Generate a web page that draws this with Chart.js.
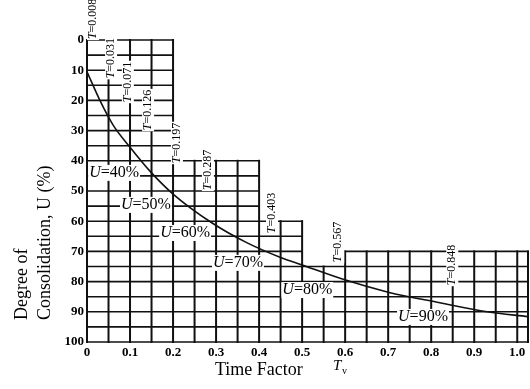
<!DOCTYPE html>
<html>
<head>
<meta charset="utf-8">
<script src="https://cdn.jsdelivr.net/npm/chart.js@4.4.1/dist/chart.umd.min.js"></script>
<style>
  html, body { margin: 0; padding: 0; background: #fff; }
  #wrap { width: 530px; height: 389px; }
</style>
</head>
<body>
<div id="wrap"><canvas id="chart"></canvas></div>
<script>
// curve: time factor T vs degree of consolidation U (%)
const timeFactor = [0, 0.03, 0.06, 0.10, 0.15, 0.20, 0.29, 0.37, 0.45, 0.50, 0.59, 0.70, 0.82, 0.93, 1.025];
const consolidation = [10.5, 20, 28, 35.5, 44, 51, 60.5, 67, 72, 74.5, 79, 83.5, 87, 90, 91.6];

const xTicks = [0, 0.1, 0.2, 0.3, 0.4, 0.5, 0.6, 0.7, 0.8, 0.9, 1.0];
const xTickLabels = ['0', '0.1', '0.2', '0.3', '0.4', '0.5', '0.6', '0.7', '0.8', '0.9', '1.0'];
const yTicks = [0, 10, 20, 30, 40, 50, 60, 70, 80, 90, 100];
const yTickLabels = ['0', '10', '20', '30', '40', '50', '60', '70', '80', '90', '100'];

// stepped grid: column edges in T and the U where each column's grid starts
const gridEdges = [0, 0.2, 0.4, 0.5, 0.6, 1.025];
const gridTops = [0, 40, 60, 75, 70];
const gridStepT = 0.05;
const gridStepU = 5;

// time factors for U = 10 ... 90 %
const tValues = ['0.008', '0.031', '0.071', '0.126', '0.197', '0.287', '0.403', '0.567', '0.848'];
const uLevels = ['40', '50', '60', '70', '80', '90'];

const SERIF = '"Liberation Serif", "DejaVu Serif", serif';

// where the annotations sit, in chart units (T, U)
const tLabelAt = [[0.014, -7], [0.056, 6], [0.095, 13.9], [0.142, 23.2], [0.209, 34.1],
                  [0.281, 43], [0.43, 57.3], [0.584, 66.9], [0.849, 74.5]];
const uLabelAt = [[0.063, 44], [0.137, 54.6], [0.228, 63.9], [0.351, 73.8], [0.512, 82.8], [0.781, 91.7]];

function topAt(t) {
    // lowest grid start among the columns touching t
    let top = 100;
    for (let i = 0; i < gridTops.length; i++) {
        if (t >= gridEdges[i] - 1e-6 && t <= gridEdges[i + 1] + 1e-6) top = Math.min(top, gridTops[i]);
    }
    return top;
}

function richWidth(ctx, parts, size) {
    let w = 0;
    parts.forEach(p => {
        ctx.font = (p.italic ? 'italic ' : '') + size + 'px ' + SERIF;
        w += ctx.measureText(p.t).width;
    });
    return w;
}

function drawRich(ctx, parts, size, x, y) {
    const w = richWidth(ctx, parts, size);
    ctx.fillStyle = '#fff';
    ctx.fillRect(x - w / 2 - 1, y - size / 2, w + 2, size);
    ctx.fillStyle = '#000';
    ctx.textBaseline = 'middle';
    ctx.textAlign = 'left';
    let cx = x - w / 2;
    parts.forEach(p => {
        ctx.font = (p.italic ? 'italic ' : '') + size + 'px ' + SERIF;
        ctx.fillText(p.t, cx, y);
        cx += ctx.measureText(p.t).width;
    });
}

const figurePlugin = {
    id: 'figure',
    beforeDatasetsDraw(chart) {
        const ctx = chart.ctx;
        const xs = chart.scales.x, ys = chart.scales.y;
        const tMax = gridEdges[gridEdges.length - 1];
        ctx.save();
        ctx.strokeStyle = '#111';
        ctx.lineCap = 'square';
        // vertical lines
        ctx.lineWidth = 2;
        const vts = [];
        for (let t = 0; t <= tMax + 1e-6; t += gridStepT) vts.push(Math.round(t * 1000) / 1000);
        if (vts[vts.length - 1] < tMax) vts.push(tMax);
        vts.forEach(t => {
            const x = xs.getPixelForValue(t);
            ctx.beginPath();
            ctx.moveTo(x, ys.getPixelForValue(topAt(t)));
            ctx.lineTo(x, ys.getPixelForValue(100));
            ctx.stroke();
        });
        // horizontal lines, one piece per column
        ctx.lineWidth = 1.6;
        for (let u = 0; u <= 100; u += gridStepU) {
            const y = ys.getPixelForValue(u);
            for (let i = 0; i < gridTops.length; i++) {
                if (gridTops[i] > u) continue;
                ctx.beginPath();
                ctx.moveTo(xs.getPixelForValue(gridEdges[i]), y);
                ctx.lineTo(xs.getPixelForValue(gridEdges[i + 1]), y);
                ctx.stroke();
            }
        }
        ctx.restore();
    },
    afterDatasetsDraw(chart) {
        const ctx = chart.ctx;
        const xs = chart.scales.x, ys = chart.scales.y;
        ctx.save();
        tValues.forEach((v, i) => {
            const x = xs.getPixelForValue(tLabelAt[i][0]);
            const y = ys.getPixelForValue(tLabelAt[i][1]);
            ctx.save();
            ctx.translate(x, y);
            ctx.rotate(-Math.PI / 2);
            drawRich(ctx, [{ t: 'T', italic: true }, { t: '=' + v }], 12, 0, 0);
            ctx.restore();
        });
        uLevels.forEach((v, i) => {
            const x = xs.getPixelForValue(uLabelAt[i][0]);
            const y = ys.getPixelForValue(uLabelAt[i][1]);
            drawRich(ctx, [{ t: 'U', italic: true }, { t: '=' + v + '%' }], 16, x, y);
        });
        ctx.restore();
    },
    afterDraw(chart) {
        const ctx = chart.ctx;
        ctx.save();
        ctx.fillStyle = '#000';
        ctx.textBaseline = 'middle';
        // x axis title
        ctx.font = '18px ' + SERIF;
        ctx.textAlign = 'left';
        ctx.fillText('Time Factor', 215, 370);
        ctx.font = 'italic 15px ' + SERIF;
        ctx.fillText('T', 333, 366);
        ctx.font = '10px ' + SERIF;
        ctx.fillText('v', 342, 371);
        // y axis title, two lines
        ctx.font = '18px ' + SERIF;
        ctx.translate(22, 320);
        ctx.rotate(-Math.PI / 2);
        ctx.fillText('Degree of', 0, 0);
        ctx.fillText('Consolidation, U (%)', 0, 23);
        ctx.restore();
    }
};

new Chart(document.getElementById('chart'), {
    type: 'line',
    data: {
        datasets: [{
            data: timeFactor.map((t, i) => ({ x: t, y: consolidation[i] })),
            borderColor: '#111',
            borderWidth: 1.6,
            pointRadius: 0,
            cubicInterpolationMode: 'monotone',
            fill: false
        }]
    },
    options: {
        responsive: true,
        maintainAspectRatio: false,
        animation: false,
        events: [],
        layout: { padding: { top: 40, right: 2, left: 0, bottom: 0 } },
        plugins: { legend: { display: false }, tooltip: { enabled: false } },
        scales: {
            x: {
                type: 'linear',
                min: 0,
                max: gridEdges[gridEdges.length - 1],
                grid: { display: false, drawTicks: false },
                border: { display: false },
                afterBuildTicks(scale) { scale.ticks = xTicks.map(v => ({ value: v })); },
                afterFit(scale) { scale.height = 47; },
                ticks: {
                    padding: 3,
                    color: '#000',
                    font: { family: SERIF, size: 13, weight: 'bold' },
                    callback: (v) => xTickLabels[xTicks.indexOf(Math.round(v * 10) / 10)] ?? ''
                }
            },
            y: {
                type: 'linear',
                reverse: true,
                min: 0,
                max: 100,
                grid: { display: false, drawTicks: false },
                border: { display: false },
                afterBuildTicks(scale) { scale.ticks = yTicks.map(v => ({ value: v })); },
                afterFit(scale) { scale.width = 87; },
                ticks: {
                    padding: 3,
                    color: '#000',
                    font: { family: SERIF, size: 13, weight: 'bold' },
                    callback: (v) => yTickLabels[yTicks.indexOf(v)] ?? ''
                }
            }
        }
    },
    plugins: [figurePlugin]
});
</script>
</body>
</html>
